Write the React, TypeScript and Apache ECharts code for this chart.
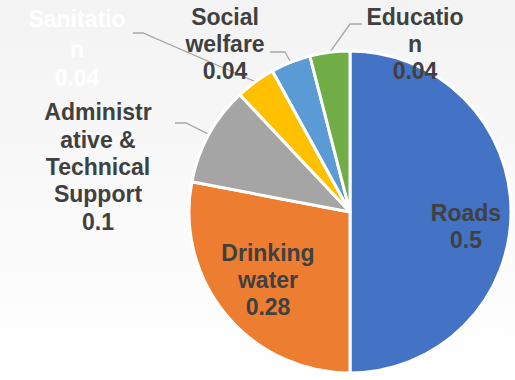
import React, { useEffect, useRef } from "react";
import * as echarts from "echarts";

const categories = [
  "Roads",
  "Drinking water",
  "Administrative & Technical Support",
  "Sanitation",
  "Social welfare",
  "Education",
];
const values = [0.5, 0.28, 0.1, 0.04, 0.04, 0.04];
const labelTexts = [
  "Roads",
  "Drinking\nwater",
  "Administr\native &\nTechnical\nSupport",
  "Sanitatio\nn",
  "Social\nwelfare",
  "Educatio\nn",
];
const sliceColors = ["#4472C4", "#ED7D31", "#A5A5A5", "#FFC000", "#5B9BD5", "#70AD47"];
const labelColors = ["#404040", "#404040", "#404040", "#ffffff", "#404040", "#404040"];

// label block centres (layout only)
const labelCenters: number[][] = [
  [466, 226],
  [268, 280],
  [98, 167],
  [77, 48.5],
  [225, 43.5],
  [415, 43.5],
];
const labelLineHeights = [27, 27, 27.3, 29.5, 27, 27];
// leader line bend and end points next to the label (layout only)
const leaderEnds: (number[][] | null)[] = [
  null,
  null,
  [[186, 123], [175, 123]],
  [[143, 33], [133, 33]],
  [[285, 52], [270, 52]],
  [[350, 24], [362, 24]],
];

export default function App() {
  const ref = useRef<HTMLDivElement>(null);
  useEffect(() => {
    if (!ref.current) return;
    const chart = echarts.init(ref.current, undefined, { renderer: "svg" });
    const data = categories.map((name, i) => ({
      name,
      value: values[i],
      itemStyle: { color: sliceColors[i] },
      label: {
        color: labelColors[i],
        lineHeight: labelLineHeights[i],
        formatter: () => `${labelTexts[i]}\n${values[i]}`,
      },
      labelLine: { show: leaderEnds[i] != null },
    }));
    chart.setOption({
      animation: false,
      backgroundColor: {
        type: "linear",
        x: 0,
        y: 0,
        x2: 0,
        y2: 1,
        colorStops: [
          { offset: 0, color: "#f3f3f3" },
          { offset: 1, color: "#ffffff" },
        ],
      },
      series: [
        {
          type: "pie",
          center: [350, 212],
          radius: 161,
          startAngle: 90,
          clockwise: true,
          avoidLabelOverlap: false,
          silent: true,
          itemStyle: { borderColor: "#ffffff", borderWidth: 3 },
          label: {
            show: true,
            position: "outside",
            fontFamily: "'Liberation Sans', Arial, sans-serif",
            fontWeight: "bold",
            fontSize: 23,
            lineHeight: 27,
            align: "center",
            overflow: "none",
          },
          labelLine: {
            show: true,
            lineStyle: { color: "#a6a6a6", width: 1.3 },
          },
          labelLayout: (params: any) => {
            const i = params.dataIndex;
            const c = labelCenters[i];
            const res: any = { x: c[0], y: c[1], align: "center", verticalAlign: "middle" };
            const ends = leaderEnds[i];
            if (ends && params.labelLinePoints && params.labelLinePoints[0]) {
              res.labelLinePoints = [params.labelLinePoints[0], ends[0], ends[1]];
            }
            return res;
          },
          data,
        },
      ],
    });
    return () => chart.dispose();
  }, []);
  return (
    <div
      ref={ref}
      style={{ position: "fixed", left: 0, top: 0, width: 515, height: 380 }}
    />
  );
}
